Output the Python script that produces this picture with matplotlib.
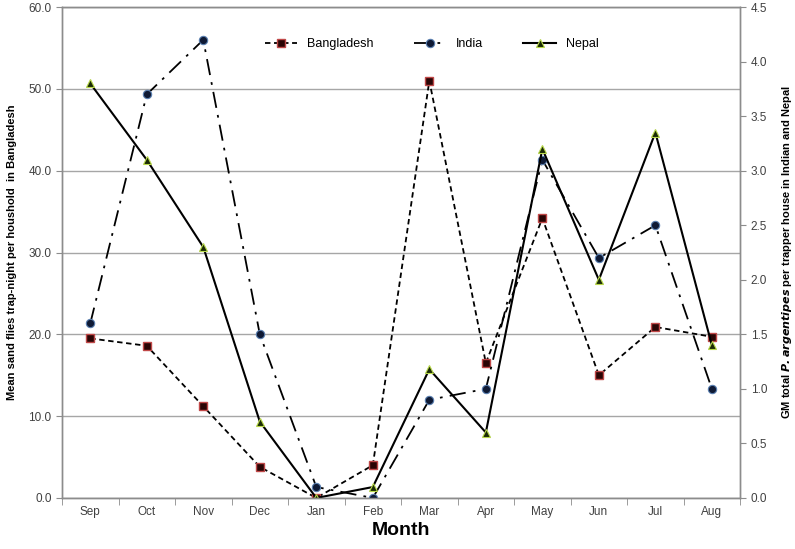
import matplotlib.pyplot as plt
from matplotlib.ticker import MultipleLocator, FormatStrFormatter

plt.rcParams['font.family'] = ['Liberation Sans', 'DejaVu Sans']

# data
months = ['Sep', 'Oct', 'Nov', 'Dec', 'Jan', 'Feb', 'Mar', 'Apr', 'May', 'Jun', 'Jul', 'Aug']
bangladesh = [19.5, 18.6, 11.2, 3.8, 0.0, 4.0, 51.0, 16.5, 34.2, 15.0, 20.9, 19.7]
india = [1.6, 3.7, 4.2, 1.5, 0.1, 0.0, 0.9, 1.0, 3.1, 2.2, 2.5, 1.0]
nepal = [3.8, 3.1, 2.3, 0.7, 0.0, 0.1, 1.18, 0.6, 3.2, 2.0, 3.35, 1.4]

x = list(range(len(months)))
spine_col = '#8c8c8c'
tick_col = '#404040'

fig = plt.figure(figsize=(7.95, 5.49), dpi=100)
ax = fig.add_axes([0.078, 0.093, 0.853, 0.894])
ax2 = ax.twinx()

l1, = ax.plot(x, bangladesh, color='black', lw=1.3, ls=(0, (3, 2)),
              marker='s', ms=6, mfc='#2a0505', mec='#c04848', mew=1, label='Bangladesh')
l2, = ax2.plot(x, india, color='black', lw=1.3, ls=(0, (9, 4, 1.5, 4)),
               marker='o', ms=6, mfc='#0f1a35', mec='#5a7fb0', mew=0.8, label='India')
l3, = ax2.plot(x, nepal, color='black', lw=1.5, ls='-',
               marker='^', ms=6, mfc='#1a2a05', mec='#b8d84a', mew=0.8, label='Nepal')

ax.set_xlim(-0.5, 11.5)
ax.set_ylim(0, 60)
ax2.set_ylim(0, 4.5)

ax.yaxis.set_major_locator(MultipleLocator(10))
ax.yaxis.set_major_formatter(FormatStrFormatter('%.1f'))
ax2.yaxis.set_major_locator(MultipleLocator(0.5))
ax2.yaxis.set_major_formatter(FormatStrFormatter('%.1f'))

ax.set_xticks(x)
ax.set_xticklabels(months)
ax.set_xticks([i + 0.5 for i in range(-1, 12)], minor=True)
ax.tick_params(axis='x', which='major', length=0, pad=6)
ax.tick_params(axis='x', which='minor', length=5, color=spine_col, direction='out')
ax.tick_params(axis='y', length=4, color=spine_col, labelsize=8.5, labelcolor=tick_col)
ax.tick_params(axis='x', labelsize=8.5, labelcolor=tick_col)
ax2.tick_params(axis='y', length=4, color=spine_col, labelsize=8.5, labelcolor=tick_col)

ax.grid(axis='y', color='#a6a6a6', lw=1)
ax.set_axisbelow(True)

for a in (ax, ax2):
    for s in a.spines.values():
        s.set_color(spine_col)
        s.set_linewidth(1)

ax.set_ylabel('Mean sand flies trap-night per houshold  in Bangladesh',
              fontsize=8, fontweight='bold', labelpad=8)
ax2.set_ylabel(r'GM total $\mathbfit{P. argentipes}$ per trapper house in Indian and Nepal',
               fontsize=8, fontweight='bold', labelpad=9)
ax.set_xlabel('Month', fontsize=14, fontweight='bold', labelpad=3)

ax2.legend(handles=[l1, l2, l3], loc='center', bbox_to_anchor=(0.545, 0.925),
           ncol=3, frameon=False, fontsize=9, columnspacing=3.2, handlelength=2.6)

fig.savefig('out.png', dpi=100)
